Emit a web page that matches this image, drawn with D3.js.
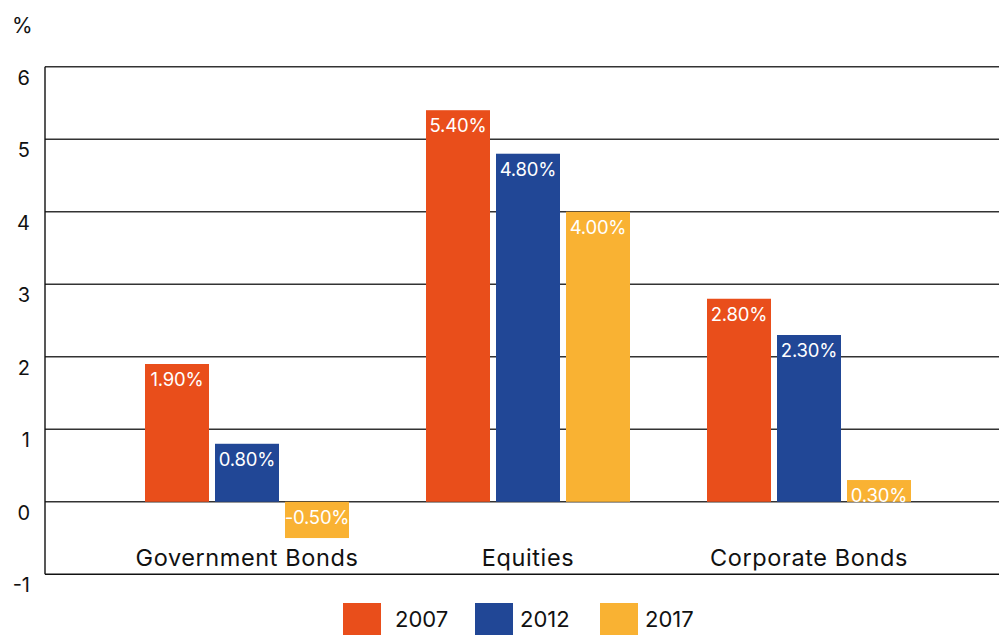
<!DOCTYPE html>
<html><head><meta charset="utf-8">
<script src="https://cdn.jsdelivr.net/npm/d3@7"></script>
<style>html,body{margin:0;padding:0;background:#fff;} svg{display:block;font-family:Inter,"Open Sans",sans-serif;}</style>
</head><body>
<svg id="chart" width="999" height="635"></svg>
<script>
const categories = ["Government Bonds", "Equities", "Corporate Bonds"];
const years = ["2007", "2012", "2017"];
const values2007 = [1.9, 5.4, 2.8];
const values2012 = [0.8, 4.8, 2.3];
const values2017 = [-0.5, 4.0, 0.3];
const yTicks = [-1, 0, 1, 2, 3, 4, 5, 6];
const colors = ["#E94E1B", "#214796", "#F9B233"];

const series = [values2007, values2012, values2017];
const svg = d3.select("#chart");
const W = 999;
const axisLeft = 45;

const y = d3.scaleLinear().domain([-1, 6]).range([574.3, 66.7]);
const x0 = d3.scaleBand().domain(categories).range([106.5, 949.5]).padding(0);
const x1 = d3.scaleBand().domain(years)
  .range([x0.bandwidth() / 2 - 102, x0.bandwidth() / 2 + 102])
  .paddingInner(6 / 70).paddingOuter(0);
const color = d3.scaleOrdinal().domain(years).range(colors);

// gridlines
svg.append("g").selectAll("line").data(yTicks).join("line")
  .attr("x1", axisLeft).attr("x2", W)
  .attr("y1", d => y(d)).attr("y2", d => y(d))
  .attr("stroke", d => d === -1 ? "#111" : "#333")
  .attr("stroke-width", 1.4);

// left axis line
svg.append("line").attr("x1", axisLeft).attr("x2", axisLeft)
  .attr("y1", y(6)).attr("y2", y(-1)).attr("stroke", "#111").attr("stroke-width", 1.4);

// tick labels
svg.append("g").selectAll("text").data(yTicks).join("text")
  .attr("x", 30).attr("y", d => y(d) + 18)
  .attr("text-anchor", "end")
  .attr("font-size", 20).attr("fill", "#111")
  .text(d => d);

svg.append("text").attr("x", 12).attr("y", 33).attr("font-size", 21).attr("fill", "#111").text("%");

// bars
const data = [];
categories.forEach((c, i) => years.forEach((yr, j) => data.push({cat: c, year: yr, value: series[j][i]})));

const bars = svg.append("g").selectAll("g").data(data).join("g")
  .attr("transform", d => `translate(${x0(d.cat) + x1(d.year)},0)`);

bars.append("rect")
  .attr("x", 0).attr("width", x1.bandwidth())
  .attr("y", d => y(Math.max(0, d.value)))
  .attr("height", d => Math.abs(y(d.value) - y(0)))
  .attr("fill", d => color(d.year));

bars.append("text")
  .attr("x", x1.bandwidth() / 2)
  .attr("y", d => y(Math.max(0, d.value)) + 22)
  .attr("text-anchor", "middle")
  .attr("font-size", 18.5).attr("letter-spacing", -0.2).attr("fill", "#fff")
  .text(d => d.value.toFixed(2) + "%");

// category labels
svg.append("g").selectAll("text").data(categories).join("text")
  .attr("x", d => x0(d) + x0.bandwidth() / 2)
  .attr("y", 565.5)
  .attr("text-anchor", "middle")
  .attr("font-size", 23.5).attr("letter-spacing", 0.6).attr("fill", "#111")
  .text(d => d);

// legend
const legendSwatchX = [343, 475, 600];
const legendTextX = [395, 520, 645];
const lg = svg.append("g").selectAll("g").data(years).join("g");
lg.append("rect").attr("x", (d, i) => legendSwatchX[i]).attr("y", 603)
  .attr("width", 38).attr("height", 34).attr("fill", d => color(d));
lg.append("text").attr("x", (d, i) => legendTextX[i]).attr("y", 627)
  .attr("font-size", 22).attr("fill", "#111").text(d => d);
</script>
</body></html>
